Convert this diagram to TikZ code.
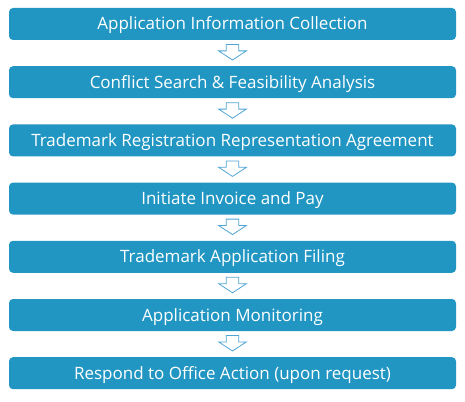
\documentclass[tikz,border=0pt]{standalone}
\usepackage{fontspec}
\setmainfont{Open Sans}
\usetikzlibrary{calc}
\definecolor{stepblue}{RGB}{33,150,195}
\definecolor{arrowblue}{RGB}{80,165,212}

\begin{document}
\begin{tikzpicture}[x=1pt,y=-1pt,
    stepbox/.style={fill=stepblue, text=white, rounded corners=4pt, minimum width=447pt, minimum height=32pt, inner sep=0pt, text height=12pt, text depth=0pt, font=\fontsize{17}{20}\selectfont},
    downarrow/.style={draw=arrowblue, fill=white, line width=0.8pt}]
    \useasboundingbox (0,0) rectangle (465,401);

    \foreach \i/\txt in {1/Application Information Collection,
                         2/Conflict Search \& Feasibility Analysis,
                         3/Trademark Registration Representation Agreement,
                         4/Initiate Invoice and Pay,
                         5/Trademark Application Filing,
                         6/Application Monitoring,
                         7/Respond to Office Action (upon request)} {
      \node[stepbox] (s\i) at (232.5, {24+58.2*(\i-1)}) {\txt};
    }

    \foreach \i [evaluate=\i as \j using int(\i+1)] in {1,...,6} {
      \draw[downarrow] ($(s\i.south)+(-6.3,4.3)$) -- ($(s\i.south)+(6.3,4.3)$)
        -- ($(s\i.south)+(6.3,10.7)$) -- ($(s\i.south)+(13.85,10.7)$)
        -- ($(s\j.north)+(0,-6)$)
        -- ($(s\i.south)+(-13.85,10.7)$) -- ($(s\i.south)+(-6.3,10.7)$) -- cycle;
    }
\end{tikzpicture}
\end{document}
